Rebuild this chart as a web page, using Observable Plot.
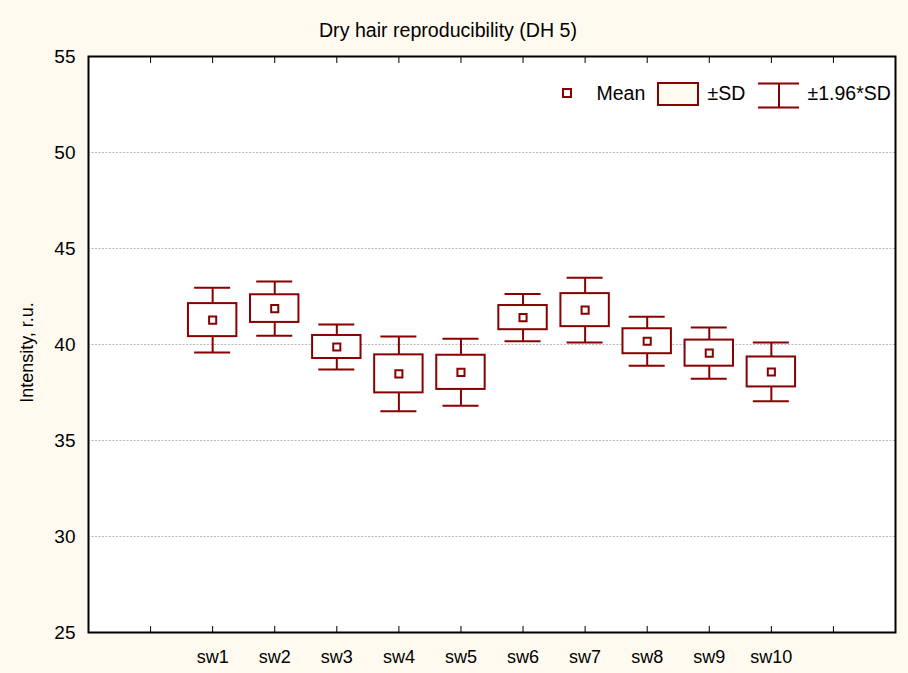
<!DOCTYPE html>
<html>
<head>
<meta charset="utf-8">
<script src="https://cdn.jsdelivr.net/npm/d3@7"></script>
<script src="https://cdn.jsdelivr.net/npm/@observablehq/plot@0.6"></script>
<style>
  body { margin: 0; background: #fffaf0; }
  #wrap { position: relative; width: 908px; height: 673px; }
  #legend { position: absolute; left: 0; top: 0; pointer-events: none; }
</style>
</head>
<body>
<div id="wrap"></div>
<script>
// ---- data ----
const categories = ["sw1", "sw2", "sw3", "sw4", "sw5", "sw6", "sw7", "sw8", "sw9", "sw10"];
const positions = [2, 3, 4, 5, 6, 7, 8, 9, 10, 11];
const means = [41.27, 41.87, 39.87, 38.47, 38.55, 41.40, 41.79, 40.17, 39.55, 38.57];
const sds = [0.86, 0.72, 0.60, 0.99, 0.89, 0.63, 0.86, 0.65, 0.68, 0.78];
const yTicks = [25, 30, 35, 40, 45, 50, 55];
const gridTicks = [30, 35, 40, 45, 50];
const frameTicks = [1, 2, 3, 4, 5, 6, 7, 8, 9, 10, 11, 12];
const title = "Dry hair reproducibility (DH 5)";
const yLabel = "Intensity, r.u.";
const legendLabels = ["Mean", "±SD", "±1.96*SD"];
const k = 1.96;

const data = categories.map((c, i) => ({cat: c, pos: positions[i], mean: means[i], sd: sds[i]}));

const red = "#880000";
const font = "'Liberation Sans', Arial, Helvetica, sans-serif";

const chart = Plot.plot({
  width: 908,
  height: 673,
  marginLeft: 88,
  marginRight: 13,
  marginTop: 56,
  marginBottom: 41,
  style: {background: "#fffaf0", fontFamily: font, fontSize: "19px", color: "#000", overflow: "visible"},
  x: {domain: [0, 13]},
  y: {domain: [25, 55]},
  marks: [
    Plot.frame({fill: "white"}),
    Plot.gridY(gridTicks, {stroke: "#b8b8b8", strokeOpacity: 1, strokeDasharray: "2,1.5"}),
    Plot.ruleX(data, {x: "pos", y1: d => d.mean - k * d.sd, y2: d => d.mean + k * d.sd, stroke: red, strokeWidth: 2}),
    Plot.ruleY(data, {x1: d => d.pos - 0.29, x2: d => d.pos + 0.29, y: d => d.mean + k * d.sd, stroke: red, strokeWidth: 2}),
    Plot.ruleY(data, {x1: d => d.pos - 0.29, x2: d => d.pos + 0.29, y: d => d.mean - k * d.sd, stroke: red, strokeWidth: 2}),
    Plot.rect(data, {x1: d => d.pos - 0.39, x2: d => d.pos + 0.39, y1: d => d.mean - d.sd, y2: d => d.mean + d.sd, fill: "white", stroke: red, strokeWidth: 2}),
    Plot.dot(data, {x: "pos", y: "mean", symbol: "square", r: 4, fill: "white", stroke: red, strokeWidth: 2}),
    Plot.axisX(frameTicks, {anchor: "bottom", tickSize: 6, dy: -6, tickFormat: () => "", label: null}),
    Plot.axisX(frameTicks, {anchor: "top", tickSize: 6, dy: 6, tickFormat: () => "", label: null}),
    Plot.axisX(positions, {anchor: "bottom", tickSize: 0, tickPadding: 18, tickFormat: d => categories[d - 2], label: null, fontSize: 18}),
    Plot.axisY(yTicks, {anchor: "left", tickSize: 0, tickPadding: 13, label: null, fontSize: 19}),
    Plot.text([yLabel], {frameAnchor: "left", textAnchor: "middle", lineAnchor: "middle", rotate: -90, dx: -61.5, dy: 8, fontSize: 18}),
    Plot.text([title], {frameAnchor: "top", textAnchor: "middle", lineAnchor: "middle", dx: -44, dy: -26, fontSize: 19.6}),
    Plot.frame({stroke: "black", strokeWidth: 2})
  ]
});

const wrap = document.getElementById("wrap");
wrap.appendChild(chart);

// ---- legend overlay ----
const svg = d3.select(wrap).append("svg")
  .attr("id", "legend")
  .attr("width", 908).attr("height", 673)
  .style("font-family", font).style("font-size", "19.5px");

svg.append("rect").attr("x", 563).attr("y", 89).attr("width", 8).attr("height", 8)
  .attr("fill", "white").attr("stroke", red).attr("stroke-width", 2);
svg.append("text").attr("x", 596.5).attr("y", 100).text(legendLabels[0]);

svg.append("rect").attr("x", 658).attr("y", 83).attr("width", 40).attr("height", 22)
  .attr("fill", "#fffaf0").attr("stroke", red).attr("stroke-width", 2);
svg.append("text").attr("x", 707.5).attr("y", 100).text(legendLabels[1]);

const wg = svg.append("g").attr("stroke", red).attr("stroke-width", 2);
wg.append("line").attr("x1", 758).attr("x2", 799).attr("y1", 83.5).attr("y2", 83.5);
wg.append("line").attr("x1", 758).attr("x2", 799).attr("y1", 107.5).attr("y2", 107.5);
wg.append("line").attr("x1", 779).attr("x2", 779).attr("y1", 83.5).attr("y2", 107.5);
svg.append("text").attr("x", 807.5).attr("y", 100).text(legendLabels[2]);
</script>
</body>
</html>
